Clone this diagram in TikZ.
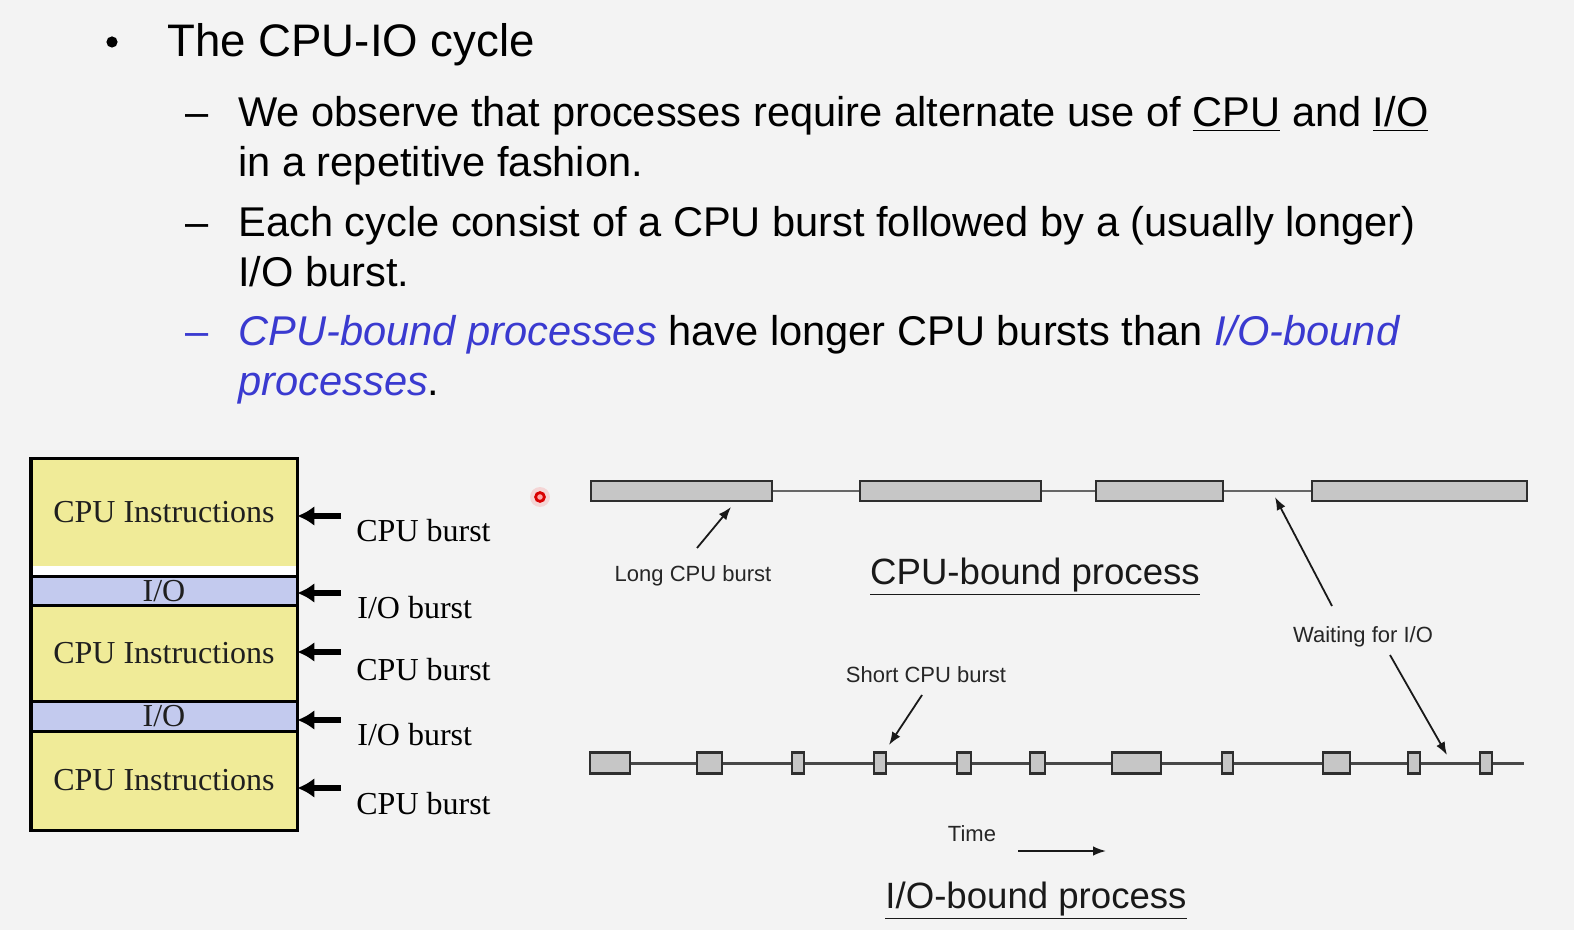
\documentclass[tikz,border=0pt]{standalone}
\usepackage{fontspec}
\setmainfont{Liberation Sans}
\newfontfamily\timesfont{Liberation Serif}
\usetikzlibrary{arrows.meta,calc}
\definecolor{bg}{HTML}{F3F3F3}
\definecolor{slideblue}{HTML}{3A3AD0}
\definecolor{cpuyellow}{HTML}{F0EB98}
\definecolor{ioblue}{HTML}{C3CAEE}
\definecolor{burstgray}{HTML}{C6C6C6}
\definecolor{barline}{HTML}{2E2E2E}
\definecolor{smalltext}{HTML}{262626}

\begin{document}
\begin{tikzpicture}[x=0.5pt,y=-0.5pt,
  titletext/.style={font=\fontsize{22.8}{27}\selectfont, anchor=base west, inner sep=0},
  body/.style={font=\fontsize{20.8}{25}\selectfont, anchor=base west, inner sep=0},
  bulletmark/.style={circle, fill=black, inner sep=0, minimum size=5.6pt},
  seg/.style={rectangle, inner sep=0, minimum width=133pt,
    font=\timesfont\fontsize{16}{18}\selectfont, text=black!88},
  sepline/.style={line width=1.6pt, black},
  frame/.style={line width=1.9pt, black},
  fat/.style={line width=2.8pt, -{Latex[length=8.5pt,width=10pt]}},
  lbl/.style={anchor=west, inner sep=0, font=\timesfont\fontsize{16}{18}\selectfont},
  bar/.style={rectangle, draw=barline, line width=1.1pt, fill=burstgray, inner sep=0},
  toptrack/.style={line width=1pt, black!60},
  bottrack/.style={line width=1.5pt, black!72},
  small/.style={font=\fontsize{11}{13}\selectfont, text=smalltext, inner sep=0},
  ptr/.style={line width=0.9pt, black!90, -{Latex[length=6.5pt,width=4.8pt]}},
  heading/.style={font=\fontsize{18.3}{22}\selectfont, inner sep=0, text=black!90}
]
% page background
\fill[bg] (0,0) rectangle (1574,930);
\useasboundingbox (0,0) rectangle (1574,930);

% ---- slide text ----
\node[bulletmark] (bul) at (112,42) {};
\node[titletext] (title) at (167,57) {The CPU-IO cycle};

\node[body] (d1) at (185,127) {--};
\node[body] (t1a) at (238,127) {We observe that processes require alternate use of \underline{CPU} and \underline{I/O}};
\node[body] (t1b) at (238,177) {in a repetitive fashion.};

\node[body] (d2) at (185,237) {--};
\node[body] (t2a) at (238,237) {Each cycle consist of a CPU burst followed by a (usually longer)};
\node[body] (t2b) at (238,287) {I/O burst.};

\node[body, text=slideblue] (d3) at (185,346) {--};
\node[body] (t3a) at (238,346) {\textcolor{slideblue}{\itshape CPU-bound processes} have longer CPU bursts than \textcolor{slideblue}{\itshape I/O-bound}};
\node[body] (t3b) at (238,396) {\textcolor{slideblue}{\itshape processes}.};

% laser pointer spot
\fill[red, opacity=0.12] (540,497) circle (5pt);
\draw[draw=red!85!black, fill=red!35, line width=1.4pt] (540,497) circle (2.2pt);

% ---- instruction stack ----
\node[seg, fill=cpuyellow, minimum height=53.5pt] (c1) at (164,512.5) {CPU Instructions};
\fill[white] (c1.south west) rectangle ([yshift=-5.5pt]c1.south east);
\node[seg, fill=ioblue, minimum height=14pt] (io1) at (164,591) {I/O};
\node[seg, fill=cpuyellow, minimum height=48.5pt] (c2) at (164,653.5) {CPU Instructions};
\node[seg, fill=ioblue, minimum height=14.5pt] (io2) at (164,716.5) {I/O};
\node[seg, fill=cpuyellow, minimum height=49.5pt] (c3) at (164,780.5) {CPU Instructions};

\draw[sepline] (io1.north west) -- (io1.north east);
\draw[sepline] (io1.south west) -- (io1.south east);
\draw[sepline] (io2.north west) -- (io2.north east);
\draw[sepline] (io2.south west) -- (io2.south east);
\draw[frame] (c1.north west) rectangle (c3.south east);

% burst labels and their arrows
\node[lbl] (lb1) at (356,531) {CPU burst};
\node[lbl] (lb2) at (357,608) {I/O burst};
\node[lbl] (lb3) at (356,670) {CPU burst};
\node[lbl] (lb4) at (357,735) {I/O burst};
\node[lbl] (lb5) at (356,804) {CPU burst};

\coordinate (a1) at (341,516);
\coordinate (a2) at (341,593);
\coordinate (a3) at (341,652);
\coordinate (a4) at (341,720);
\coordinate (a5) at (341,788);
\draw[fat] (a1) -- (a1 -| c1.east);
\draw[fat] (a2) -- (a2 -| io1.east);
\draw[fat] (a3) -- (a3 -| c2.east);
\draw[fat] (a4) -- (a4 -| io2.east);
\draw[fat] (a5) -- (a5 -| c3.east);

% ---- CPU-bound timeline ----
\node[bar, minimum width=90.5pt, minimum height=10pt] (b1) at (681.5,491) {};
\node[bar, minimum width=90.5pt, minimum height=10pt] (b2) at (950.5,491) {};
\node[bar, minimum width=63.5pt, minimum height=10pt] (b3) at (1159.5,491) {};
\node[bar, minimum width=107.5pt, minimum height=10pt] (b4) at (1419.5,491) {};
\draw[toptrack] (b1) -- (b2);
\draw[toptrack] (b2) -- (b3);
\draw[toptrack] (b3) -- (b4);

\node[small] (longlbl) at (693,576) {Long CPU burst};
\coordinate (lt) at (697,548);
\coordinate (lh) at (731,507);
\draw[ptr] (lt) -- (lh);

\node[heading] (cpuhead) at (1035,577) {\underline{CPU-bound process}};

\node[small] (waitlbl) at (1363,637) {Waiting for I/O};
\coordinate (wt1) at (1332,606);
\coordinate (wh1) at (1275,497);
\coordinate (wt2) at (1390,655);
\coordinate (wh2) at (1447,755);
\draw[ptr] (wt1) -- (wh1);
\draw[ptr] (wt2) -- (wh2);

% ---- I/O-bound timeline ----
\foreach \n/\cx/\w in {1/610/40, 2/709.5/25, 3/798/12, 4/880/12, 5/964/14,
    6/1037.5/15, 7/1136.5/49, 8/1227.5/11, 9/1336.5/27, 10/1414/12, 11/1486/12}
  \node[bar, minimum width={\w*0.5pt}, minimum height=10.5pt] (s\n) at (\cx,763) {};
\foreach \a/\b in {1/2,2/3,3/4,4/5,5/6,6/7,7/8,8/9,9/10,10/11}
  \draw[bottrack] (s\a) -- (s\b);
\coordinate (tend) at (1524,763);
\draw[bottrack] (s11) -- (tend);

\node[small] (shortlbl) at (926,675) {Short CPU burst};
\coordinate (st) at (922,695);
\coordinate (sh) at (889,745);
\draw[ptr] (st) -- (sh);

\node[small] (timelbl) at (972,834) {Time};
\coordinate (tt) at (1018,851);
\coordinate (th) at (1106,851);
\draw[ptr] (tt) -- (th);

\node[heading] (iohead) at (1036,901) {\underline{I/O-bound process}};
\end{tikzpicture}
\end{document}
